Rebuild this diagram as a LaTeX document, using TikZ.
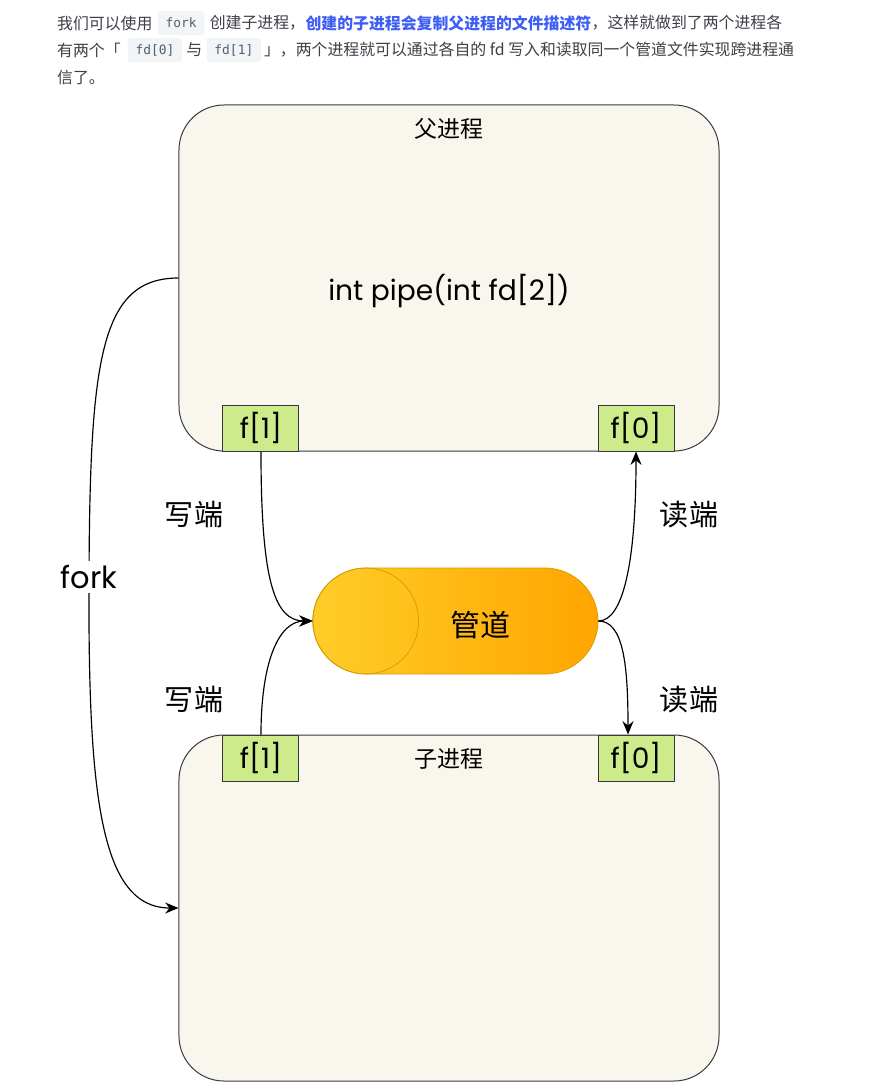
\documentclass[tikz,border=0pt]{standalone}
\usepackage{fontspec}
\usetikzlibrary{positioning,arrows.meta}
\setmainfont{Noto Sans CJK SC}
\setmonofont{DejaVu Sans Mono}
\newfontfamily\handfont{Poppins}

\definecolor{textgray}{HTML}{3C4048}
\definecolor{linkblue}{HTML}{3D5DF5}
\definecolor{codebg}{HTML}{F2F4F5}
\definecolor{codegray}{HTML}{4F5F73}
\definecolor{linegray}{HTML}{36393D}
\definecolor{procfill}{HTML}{F9F7ED}
\definecolor{fdgreen}{HTML}{CDEB8B}
\definecolor{pipeL}{HTML}{FFCD28}
\definecolor{pipeR}{HTML}{FFA500}
\definecolor{pipeS}{HTML}{D79B00}

\tikzset{
  txt/.style={inner sep=0pt, text=textgray, font=\fontsize{13.55}{16}\selectfont},
  codebox/.style={fill=codebg, rounded corners=2pt, text=codegray, inner xsep=0.23cm,
    minimum height=0.72cm, font=\ttfamily\fontsize{11}{13}\selectfont},
  procbox/.style={draw=linegray, fill=procfill, line width=0.85pt, rounded corners=1.35cm,
    minimum width=16.2cm, minimum height=10.38cm},
  fdbox/.style={draw=linegray, fill=fdgreen, line width=0.85pt, inner sep=0pt,
    minimum width=2.28cm, minimum height=1.38cm, font=\handfont\fontsize{24}{26}\selectfont},
  pipebox/.style={draw=pipeS, left color=pipeL, right color=pipeR, line width=0.6pt,
    rounded corners=1.59cm, minimum width=8.55cm, minimum height=3.18cm},
  title/.style={font=\fontsize{19.6}{22}\selectfont, inner sep=0pt},
  side/.style={font=\fontsize{24.8}{28}\selectfont},
  link/.style={-{Stealth[length=4mm,width=3.3mm]}, line width=1pt},
}

\begin{document}
\begin{tikzpicture}[x=0.03cm,y=-0.03cm]
\fill[white] (0,0) rectangle (869,1089);
\useasboundingbox (0,0) rectangle (869,1089);

% text above the picture
\node (l1a) [txt, anchor=west] at (57,23) {我们可以使用};
\node (cfork) [codebox, right=0.15cm of l1a] {fork};
\node (l1b) [txt, right=0.15cm of cfork] {创建子进程，};
\node (l1c) [txt, right=0pt of l1b, text=linkblue, font=\bfseries\fontsize{13.55}{16}\selectfont] {创建的子进程会复制父进程的文件描述符};
\node (l1d) [txt, right=0pt of l1c] {，这样就做到了两个进程各};
\node (l2a) [txt, anchor=west] at (57,50) {有两个「};
\node (cfd0) [codebox, right=0.2cm of l2a] {fd[0]};
\node (l2b) [txt, right=0.12cm of cfd0] {与};
\node (cfd1) [codebox, right=0.12cm of l2b] {fd[1]};
\node (l2c) [txt, right=0.08cm of cfd1] {」，两个进程就可以通过各自的 fd 写入和读取同一个管道文件实现跨进程通};
\node (l3a) [txt, anchor=west] at (57,77) {信了。};

% two processes
\node (parent) [procbox] at (449,278) {};
\node (child) [procbox] at (449,908) {};
\node (ptitle) [title, below=0.42cm of parent.north] {父进程};
\node (ctitle) [title, below=0.42cm of child.north] {子进程};
\node (pcall) [font=\handfont\fontsize{24}{28}\selectfont, yshift=-0.38cm] at (parent.center) {int pipe(int fd[2])};

% file descriptors
\node (pf1) [fdbox, anchor=south west] at ([xshift=1.32cm]parent.south west) {f[1]};
\node (pf0) [fdbox, anchor=south east] at ([xshift=-1.35cm]parent.south east) {f[0]};
\node (cf1) [fdbox, anchor=north west] at ([xshift=1.32cm]child.north west) {f[1]};
\node (cf0) [fdbox, anchor=north east] at ([xshift=-1.35cm]child.north east) {f[0]};

% the pipe
\node (pipe) [pipebox] at (455.5,621) {};
\draw[pipeS, line width=0.6pt] ([xshift=1.59cm]pipe.west) ellipse (1.59cm and 1.59cm);
\node (pipetxt) [font=\fontsize{25.6}{30}\selectfont] at (480,625) {管道};

% write and read ends
\draw[link] (pf1.south) .. controls +(0,130) and +(-38,0) .. (pipe.west);
\draw[link] (cf1.north) .. controls +(0,-70) and +(-35,0) .. (pipe.west);
\draw[link] (pipe.east) .. controls +(25,0) and +(0,110) .. (pf0.south);
\draw[link] (pipe.east) .. controls +(25,0) and +(0,-70) .. ([xshift=-0.24cm]cf0.north);

\node (w1) [side] at (194,515) {写端};
\node (w2) [side] at (194,700) {写端};
\node (r1) [side] at (689,515) {读端};
\node (r2) [side] at (689,700) {读端};

% fork
\coordinate (forkmid) at (89,577);
\draw[link] (parent.west) .. controls (100,278) and (90,360) .. (forkmid)
  .. controls (88,794) and (100,908) .. (child.west);
\node (forklbl) [fill=white, inner xsep=1pt, font=\handfont\fontsize{26}{28}\selectfont] at (forkmid) {fork};
\end{tikzpicture}
\end{document}
